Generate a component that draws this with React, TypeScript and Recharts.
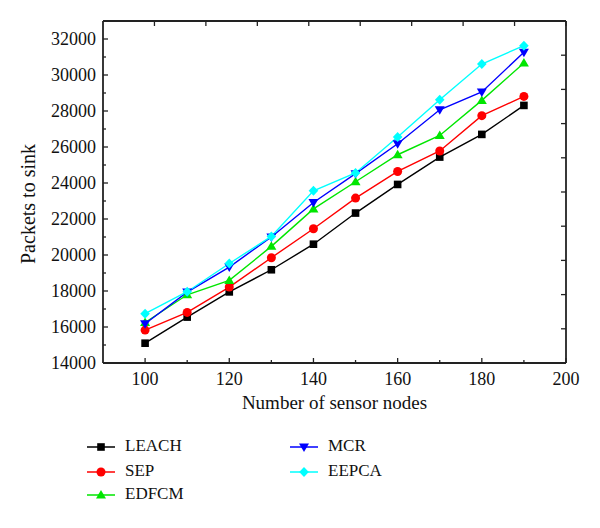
import React from 'react';
import { LineChart, Line, XAxis, YAxis, Legend } from 'recharts';

const nodes = [100, 110, 120, 130, 140, 150, 160, 170, 180, 190];
const leach = [15100, 16550, 17950, 19180, 20600, 22330, 23920, 25440, 26700, 28310];
const sep = [15830, 16810, 18220, 19850, 21460, 23160, 24640, 25780, 27740, 28810];
const edfcm = [16250, 17790, 18590, 20480, 22560, 24070, 25570, 26640, 28590, 30670];
const mcr = [16180, 17940, 19330, 21000, 22920, 24520, 26180, 28070, 29060, 31260];
const eepca = [16740, 17960, 19530, 21030, 23570, 24560, 26560, 28630, 30610, 31630];

const xTicks = [100, 110, 120, 130, 140, 150, 160, 170, 180, 190, 200];
const xMajor = [100, 120, 140, 160, 180, 200];
const yTicks = [14000, 15000, 16000, 17000, 18000, 19000, 20000, 21000, 22000, 23000, 24000, 25000, 26000, 27000, 28000, 29000, 30000, 31000, 32000];
const yMajor = [14000, 16000, 18000, 20000, 22000, 24000, 26000, 28000, 30000, 32000];
const frameTicks = [1, 2, 3, 4, 5, 6, 7, 8, 9];

const seriesNames = ['LEACH', 'SEP', 'EDFCM', 'MCR', 'EEPCA'];
const seriesValues = [leach, sep, edfcm, mcr, eepca];
const seriesColors = ['#000000', '#ff0000', '#00e600', '#0000ff', '#00ffff'];
const seriesShapes = ['square', 'circle', 'triangle', 'invtriangle', 'diamond'];

const data = nodes.map((n, i) => {
  const row: any = { n };
  seriesNames.forEach((s, k) => {
    row[s] = seriesValues[k][i];
  });
  return row;
});

const FONT = '"Liberation Serif", "Times New Roman", serif';
const AXIS_COLOR = '#222';

function marker(shape: string, cx: number, cy: number, color: string, key?: any) {
  switch (shape) {
    case 'square':
      return <rect key={key} x={cx - 3.8} y={cy - 3.8} width={7.6} height={7.6} fill={color} />;
    case 'circle':
      return <circle key={key} cx={cx} cy={cy} r={4.5} fill={color} />;
    case 'triangle':
      return <polygon key={key} points={`${cx},${cy - 5} ${cx + 5},${cy + 3.5} ${cx - 5},${cy + 3.5}`} fill={color} />;
    case 'invtriangle':
      return <polygon key={key} points={`${cx},${cy + 5} ${cx + 5},${cy - 3.5} ${cx - 5},${cy - 3.5}`} fill={color} />;
    default:
      return <polygon key={key} points={`${cx},${cy - 5} ${cx + 4.8},${cy} ${cx},${cy + 5} ${cx - 4.8},${cy}`} fill={color} />;
  }
}

const BottomTick = (props: any) => {
  const { x, y, payload } = props;
  const major = xMajor.includes(payload.value);
  return (
    <g>
      <line x1={x} y1={y} x2={x} y2={y - (major ? 5 : 3)} stroke={AXIS_COLOR} strokeWidth={1.3} />
      {major && (
        <text x={x} y={y + 22} textAnchor="middle" fontFamily={FONT} fontSize={18} fill="#111">
          {payload.value}
        </text>
      )}
    </g>
  );
};

const LeftTick = (props: any) => {
  const { x, y, payload } = props;
  const major = yMajor.includes(payload.value);
  return (
    <g>
      <line x1={x} y1={y} x2={x + (major ? 5 : 3)} y2={y} stroke={AXIS_COLOR} strokeWidth={1.3} />
      {major && (
        <text x={x - 7} y={y + 6} textAnchor="end" fontFamily={FONT} fontSize={18} fill="#111">
          {payload.value}
        </text>
      )}
    </g>
  );
};

const TopTick = (props: any) => {
  const { x, y } = props;
  return <line x1={x} y1={y} x2={x} y2={y + 5} stroke={AXIS_COLOR} strokeWidth={1.3} />;
};

const RightTick = (props: any) => {
  const { x, y } = props;
  return <line x1={x} y1={y} x2={x - 5} y2={y} stroke={AXIS_COLOR} strokeWidth={1.3} />;
};

const LegendContent = () => {
  const rows = [24, 49, 72];
  const items = seriesNames.map((name, k) => {
    const col = k < 3 ? 0 : 1;
    const row = k < 3 ? k : k - 3;
    const lineX = col === 0 ? 87 : 290;
    const textX = col === 0 ? 125 : 328;
    const cy = rows[row];
    return (
      <div key={name}>
        <svg
          width={30}
          height={14}
          style={{ position: 'absolute', left: lineX, top: cy - 7 }}
        >
          <line x1={0} y1={7} x2={28} y2={7} stroke={seriesColors[k]} strokeWidth={1.5} />
          {marker(seriesShapes[k], 14, 7, seriesColors[k])}
        </svg>
        <span
          style={{
            position: 'absolute',
            left: textX,
            top: cy - 11,
            lineHeight: '20px',
            fontFamily: FONT,
            fontSize: 17,
            color: '#111',
            whiteSpace: 'nowrap',
          }}
        >
          {name}
        </span>
      </div>
    );
  });
  return <div style={{ position: 'relative', width: 600, height: 95 }}>{items}</div>;
};

export default function App() {
  return (
    <div style={{ position: 'absolute', left: 0, top: 0, width: 600, height: 528, background: '#fff' }}>
      <LineChart
        width={600}
        height={528}
        data={data}
        margin={{ top: 20, right: 24, bottom: 10, left: 0 }}
      >
        <XAxis
          xAxisId="bottom"
          dataKey="n"
          type="number"
          domain={[90, 200]}
          ticks={xTicks}
          allowDataOverflow
          height={60}
          tickSize={0}
          tickMargin={0}
          tickLine={false}
          interval={0}
          axisLine={{ stroke: AXIS_COLOR, strokeWidth: 1.8 }}
          tick={BottomTick}
          label={(p: any) => {
            const vb = p.viewBox;
            return (
              <text
                x={vb.x + vb.width / 2}
                y={vb.y + 46}
                textAnchor="middle"
                fontFamily={FONT}
                fontSize={19}
                fill="#111"
              >
                Number of sensor nodes
              </text>
            );
          }}
        />
        <XAxis
          xAxisId="top"
          orientation="top"
          type="number"
          domain={[0, 10]}
          ticks={frameTicks}
          allowDataOverflow
          height={1}
          tickSize={0}
          tickMargin={0}
          tickLine={false}
          interval={0}
          axisLine={{ stroke: AXIS_COLOR, strokeWidth: 1.8 }}
          tick={TopTick}
        />
        <YAxis
          yAxisId="left"
          type="number"
          domain={[14000, 33000]}
          ticks={yTicks}
          allowDataOverflow
          width={103}
          tickSize={0}
          tickMargin={0}
          tickLine={false}
          interval={0}
          axisLine={{ stroke: AXIS_COLOR, strokeWidth: 1.8 }}
          tick={LeftTick}
          label={(p: any) => {
            const vb = p.viewBox;
            const cx = vb.x + 30;
            const cy = vb.y + vb.height / 2 + 12;
            return (
              <text
                x={cx}
                y={cy}
                transform={`rotate(-90, ${cx}, ${cy})`}
                textAnchor="middle"
                dominantBaseline="middle"
                fontFamily={FONT}
                fontSize={20}
                fill="#111"
              >
                Packets to sink
              </text>
            );
          }}
        />
        <YAxis
          yAxisId="right"
          orientation="right"
          type="number"
          domain={[0, 10]}
          ticks={frameTicks}
          allowDataOverflow
          width={10}
          tickSize={0}
          tickMargin={0}
          tickLine={false}
          interval={0}
          axisLine={{ stroke: AXIS_COLOR, strokeWidth: 1.8 }}
          tick={RightTick}
        />
        <Legend
          verticalAlign="bottom"
          height={95}
          wrapperStyle={{ left: 0, bottom: 10, width: 600, height: 95 }}
          content={LegendContent}
        />
        {seriesNames.map((name, k) => (
          <Line
            key={name}
            xAxisId="bottom"
            yAxisId="left"
            type="linear"
            dataKey={name}
            stroke={seriesColors[k]}
            strokeWidth={1.4}
            isAnimationActive={false}
            dot={(p: any) => marker(seriesShapes[k], p.cx, p.cy, seriesColors[k], `${name}-${p.index}`)}
            activeDot={false}
          />
        ))}
      </LineChart>
    </div>
  );
}
